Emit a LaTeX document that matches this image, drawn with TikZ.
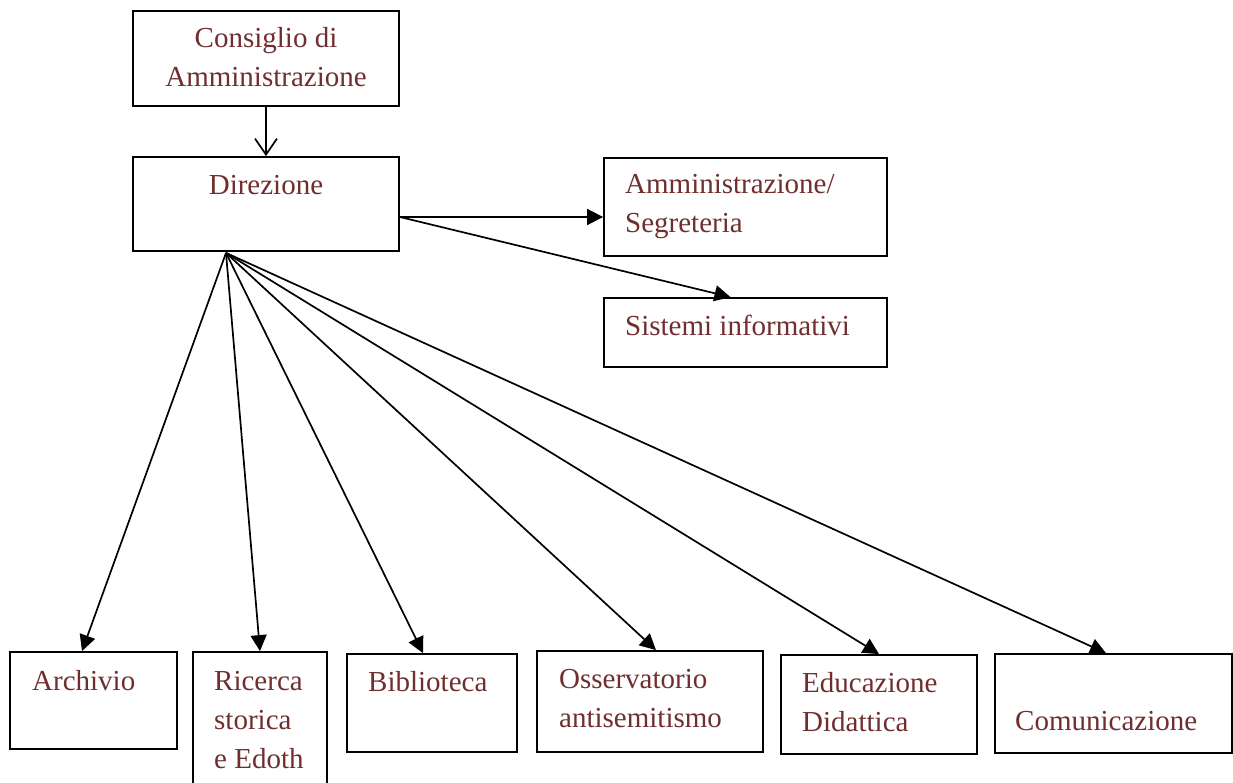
\documentclass[tikz,border=0pt]{standalone}
\usepackage{fontspec}
\setmainfont{Liberation Serif}
\usetikzlibrary{arrows.meta,calc}
\definecolor{unitred}{RGB}{112,46,46}
\tikzset{
  unit/.style={draw,line width=1.8pt,inner sep=0pt},
  txt/.style={text=unitred,font=\fontsize{29}{39}\selectfont,inner sep=0pt,align=left},
  link/.style={line width=1.7pt,-{Triangle[length=16pt,width=16pt]}},
}

\begin{document}
\begin{tikzpicture}[x=1pt,y=-1pt]
\useasboundingbox (0,0) rectangle (1233,783);
\clip (0,0) rectangle (1233,783);
\node[unit,minimum width=266pt,minimum height=95pt] (cda) at (266,58.5) {};
\node[unit,minimum width=266pt,minimum height=94pt] (dir) at (266,204) {};
\node[unit,minimum width=283pt,minimum height=98pt] (amm) at (745.5,207) {};
\node[unit,minimum width=283pt,minimum height=69pt] (sis) at (745.5,332.5) {};
\node[unit,minimum width=167pt,minimum height=97pt] (arc) at (93.5,700.5) {};
\node[unit,minimum width=134pt,minimum height=150pt] (ric) at (260,727) {};
\node[unit,minimum width=170pt,minimum height=98pt] (bib) at (432,703) {};
\node[unit,minimum width=226pt,minimum height=101pt] (oss) at (650,701.5) {};
\node[unit,minimum width=196pt,minimum height=99pt] (edu) at (879,704.5) {};
\node[unit,minimum width=237pt,minimum height=99pt] (com) at (1113.5,703.5) {};

\node[txt,align=center,anchor=base] (cdaT) at (266,87) {Consiglio di\\Amministrazione};
\node[txt,anchor=base] (dirT) at (266,195) {Direzione};
\node[txt,anchor=base west] (ammT) at (625,233) {Amministrazione/\\Segreteria};
\node[txt,anchor=base west] (sisT) at (625,335) {Sistemi informativi};
\node[txt,anchor=base west] (arcT) at (32,690) {Archivio};
\node[txt,anchor=base west] (ricT) at (214,768) {Ricerca\\storica\\e Edoth};
\node[txt,anchor=base west] (bibT) at (368,691) {Biblioteca};
\node[txt,anchor=base west] (ossT) at (559,727) {Osservatorio\\antisemitismo};
\node[txt,anchor=base west] (eduT) at (802,731) {Educazione\\Didattica};
\node[txt,anchor=base west] (comT) at (1015,730) {Comunicazione};

\draw[line width=1.7pt,-{Straight Barb[length=16pt,width=22pt]}] (cda.south) -- (dir.north);
\coordinate (dirR) at ([yshift=-13pt]dir.east);
\coordinate (dirB) at ([xshift=-40pt,yshift=-1pt]dir.south);
\draw[link] (dirR) -- (dirR -| amm.west);
\draw[link] (dirR) -- ([xshift=-15pt]sis.north);
\foreach \unitname/\dx in {arc/-11.5,ric/0,bib/-9,oss/6,edu/0,com/-7.5}
  \draw[link] (dirB) -- ([xshift=\dx pt]\unitname.north);
\end{tikzpicture}
\end{document}
